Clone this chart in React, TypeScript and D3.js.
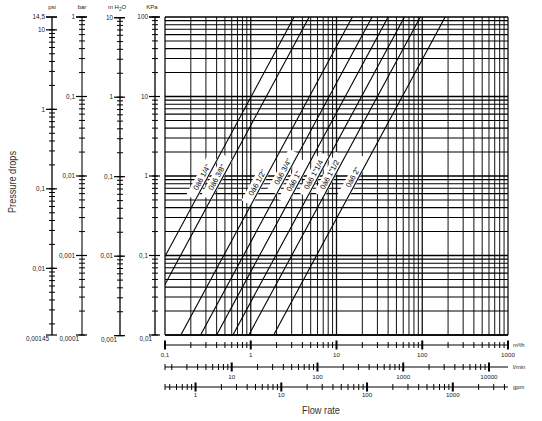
import React from 'react';
import * as d3 from 'd3';

const flowDomain: [number, number] = [0.1, 1000];
const kpaDomain: [number, number] = [0.01, 100];
const valveSizes = ['1/4"', '3/8"', '1/2"', '3/4"', '1"', '1"1/4', '1"1/2', '2"'];
const kvValues = [3.2, 4.8, 15.3, 26, 40, 62, 95, 185];
const labelPressures = [0.9, 0.9, 0.77, 1.06, 0.8, 0.97, 0.97, 0.9];
const labelPrefix = '0á6';

const psiLabels: [number, string][] = [[14.5, '14,5'], [10, '10'], [1, '1'], [0.1, '0,1'], [0.01, '0,01']];
const barLabels: [number, string][] = [[1, '1'], [0.1, '0,1'], [0.01, '0,01'], [0.001, '0,001']];
const mh2oLabels: [number, string][] = [[10, '10'], [1, '1'], [0.1, '0,1'], [0.01, '0,01']];
const kpaLabels: [number, string][] = [[100, '100'], [10, '10'], [1, '1'], [0.1, '0,1']];
const m3hLabels: [number, string][] = [[0.1, '0,1'], [1, '1'], [10, '10'], [100, '100'], [1000, '1000']];
const lminLabels: [number, string][] = [[10, '10'], [100, '100'], [1000, '1000'], [10000, '10000']];
const gpmLabels: [number, string][] = [[1, '1'], [10, '10'], [100, '100'], [1000, '1000']];

const FONT = 'Liberation Sans, Arial, sans-serif';

function logTicks(min: number, max: number): number[] {
  const out: number[] = [];
  const k0 = Math.floor(Math.log10(min)) - 1;
  const k1 = Math.ceil(Math.log10(max)) + 1;
  for (let k = k0; k <= k1; k++) {
    for (let m = 1; m <= 9; m++) {
      const v = m * Math.pow(10, k);
      if (v >= min * 0.9999 && v <= max * 1.0001) out.push(+v.toPrecision(6));
    }
  }
  return out;
}
const isDecade = (v: number) => Math.abs(Math.log10(v) - Math.round(Math.log10(v))) < 1e-6;

export default function App() {
  const L = 165, R = 508, T = 17, B = 335;
  const x = d3.scaleLog().domain(flowDomain).range([L, R]);
  const y = d3.scaleLog().domain(kpaDomain).range([B, T]);

  const vTicks = logTicks(flowDomain[0], flowDomain[1]);
  const hTicks = logTicks(kpaDomain[0], kpaDomain[1]);

  const leftAxes = [
    { name: 'psi', ax: 52, factor: 6.894757, min: 0.00145, max: 14.5, labels: psiLabels, bottom: '0,00145', color: '#000', w: 1.3 },
    { name: 'bar', ax: 82, factor: 100, min: 0.0001, max: 1, labels: barLabels, bottom: '0,0001', color: '#777', w: 2 },
    { name: 'mh2o', ax: 120, factor: 9.80665, min: 0.001, max: 10, labels: mh2oLabels, bottom: '0,001', color: '#000', w: 1.3 },
    { name: 'kpa', ax: 155, factor: 1, min: 0.01, max: 100, labels: kpaLabels, bottom: '0,01', color: '#000', w: 1.3 },
  ];

  const bottomAxes = [
    { ay: 345, factor: 1, labels: m3hLabels, unit: 'm³/h', ly: 355 },
    { ay: 367, factor: 0.06, labels: lminLabels, unit: 'l/min', ly: 377 },
    { ay: 387, factor: 0.2271247, labels: gpmLabels, unit: 'gpm', ly: 395 },
  ];

  const slopeAngle = (Math.atan2(y(100) - y(1), x(10) - x(1)) * 180) / Math.PI;

  const line = d3.line<[number, number]>().x((d) => x(d[0])).y((d) => y(d[1]));

  return (
    <svg width={542} height={421} style={{ position: 'absolute', left: 0, top: 0, background: '#fff' }} fontFamily={FONT}>
      <defs>
        <clipPath id="plotClip">
          <rect x={L} y={T} width={R - L} height={B - T} />
        </clipPath>
      </defs>

      {vTicks.map((t, i) => (
        <line key={'v' + i} x1={x(t)} x2={x(t)} y1={T} y2={B} stroke="#111" strokeWidth={isDecade(t) ? 1.3 : 1} />
      ))}
      {hTicks.map((t, i) => (
        <line key={'h' + i} x1={L} x2={R} y1={y(t)} y2={y(t)} stroke="#000" strokeWidth={isDecade(t) ? 1.4 : 1.1} />
      ))}
      <line x1={L} x2={R} y1={B} y2={B} stroke="#000" strokeWidth={1.6} />

      {kvValues.map((kv, i) => {
        const p = labelPressures[i];
        const q = kv * Math.sqrt(p / 100);
        return (
          <g key={'lb' + i} transform={`translate(${x(q)},${y(p)}) rotate(${slopeAngle})`}>
            <rect x={-23} y={-10.5} width={46} height={11.5} fill="#fff" />
          </g>
        );
      })}

      <g clipPath="url(#plotClip)">
        {kvValues.map((kv, i) => {
          const pts: [number, number][] = [
            [kv * Math.sqrt(kpaDomain[0] / 100), kpaDomain[0]],
            [kv * Math.sqrt(kpaDomain[1] / 100), kpaDomain[1]],
          ];
          return <path key={'ln' + i} d={line(pts) || ''} stroke="#000" strokeWidth={1.1} fill="none" />;
        })}
      </g>

      {kvValues.map((kv, i) => {
        const p = labelPressures[i];
        const q = kv * Math.sqrt(p / 100);
        return (
          <g key={'lt' + i} transform={`translate(${x(q)},${y(p)}) rotate(${slopeAngle})`}>
            <text x={0} y={-2.5} fontSize={7.6} textAnchor="middle" fill="#000">
              {labelPrefix + ' ' + valveSizes[i]}
            </text>
          </g>
        );
      })}

      {leftAxes.map((a) => {
        const yy = (v: number) => y(v * a.factor);
        const ticks = logTicks(a.min, a.max);
        return (
          <g key={a.name}>
            <line x1={a.ax} x2={a.ax} y1={yy(a.max)} y2={yy(a.min)} stroke={a.color} strokeWidth={a.w} />
            {ticks.map((t, i) => (
              <line key={i} x1={a.ax - 3} x2={a.ax + 3} y1={yy(t)} y2={yy(t)} stroke="#000" strokeWidth={1} />
            ))}
            <line x1={a.ax - 6} x2={a.ax + 5} y1={yy(a.max)} y2={yy(a.max)} stroke="#000" strokeWidth={1.2} />
            <line x1={a.ax - 6} x2={a.ax + 5} y1={yy(a.min)} y2={yy(a.min)} stroke="#000" strokeWidth={1.2} />
            {a.labels.map(([v, s], i) => (
              <g key={'l' + i}>
                <line x1={a.ax - 6} x2={a.ax + 5} y1={yy(v)} y2={yy(v)} stroke="#000" strokeWidth={1.2} />
                <text x={a.ax - 7} y={yy(v)} dy="0.35em" fontSize={6.4} textAnchor="end" fill="#222">{s}</text>
              </g>
            ))}
            <text x={a.ax - 3} y={yy(a.min) + 4} dy="0.35em" fontSize={6.4} textAnchor="end" fill="#222">{a.bottom}</text>
          </g>
        );
      })}

      <text x={52} y={9} fontSize={6} textAnchor="middle" fill="#222">psi</text>
      <text x={82} y={9} fontSize={6} textAnchor="middle" fill="#222">bar</text>
      <text x={117} y={9} fontSize={6} textAnchor="middle" fill="#222">
        m H<tspan fontSize={4.5} dy={2}>2</tspan><tspan dy={-2}>O</tspan>
      </text>
      <text x={152} y={9} fontSize={6} textAnchor="middle" fill="#222">KPa</text>

      <text transform="translate(16,182) rotate(-90)" fontSize={11} textAnchor="middle" fill="#333" textLength={62} lengthAdjust="spacingAndGlyphs">
        Pressure drops
      </text>

      {bottomAxes.map((a, ai) => {
        const xmin = flowDomain[0] / a.factor;
        const xmax = flowDomain[1] / a.factor;
        const xx = (v: number) => x(v * a.factor);
        const ticks = logTicks(xmin, xmax);
        return (
          <g key={'b' + ai}>
            <line x1={L} x2={R} y1={a.ay} y2={a.ay} stroke="#000" strokeWidth={1.1} />
            <line x1={L} x2={L} y1={a.ay - 3} y2={a.ay + 3} stroke="#000" strokeWidth={1} />
            {ticks.map((t, i) => {
              const major = isDecade(t);
              return (
                <line key={i} x1={xx(t)} x2={xx(t)} y1={a.ay - (major ? 4.5 : 3)} y2={a.ay + (major ? 4.5 : 3)}
                  stroke="#000" strokeWidth={major ? 2 : 1} />
              );
            })}
            {a.labels.map(([v, s], i) => (
              <text key={'t' + i} x={xx(v)} y={a.ly} dy="0.35em" fontSize={6.2} textAnchor="middle" fill="#222">{s}</text>
            ))}
            <text x={513} y={a.ay} dy="0.35em" fontSize={5.8} fill="#222">{a.unit}</text>
          </g>
        );
      })}

      <text x={321} y={410} dy="0.35em" fontSize={11} textAnchor="middle" fill="#333" textLength={38} lengthAdjust="spacingAndGlyphs">
        Flow rate
      </text>
    </svg>
  );
}
